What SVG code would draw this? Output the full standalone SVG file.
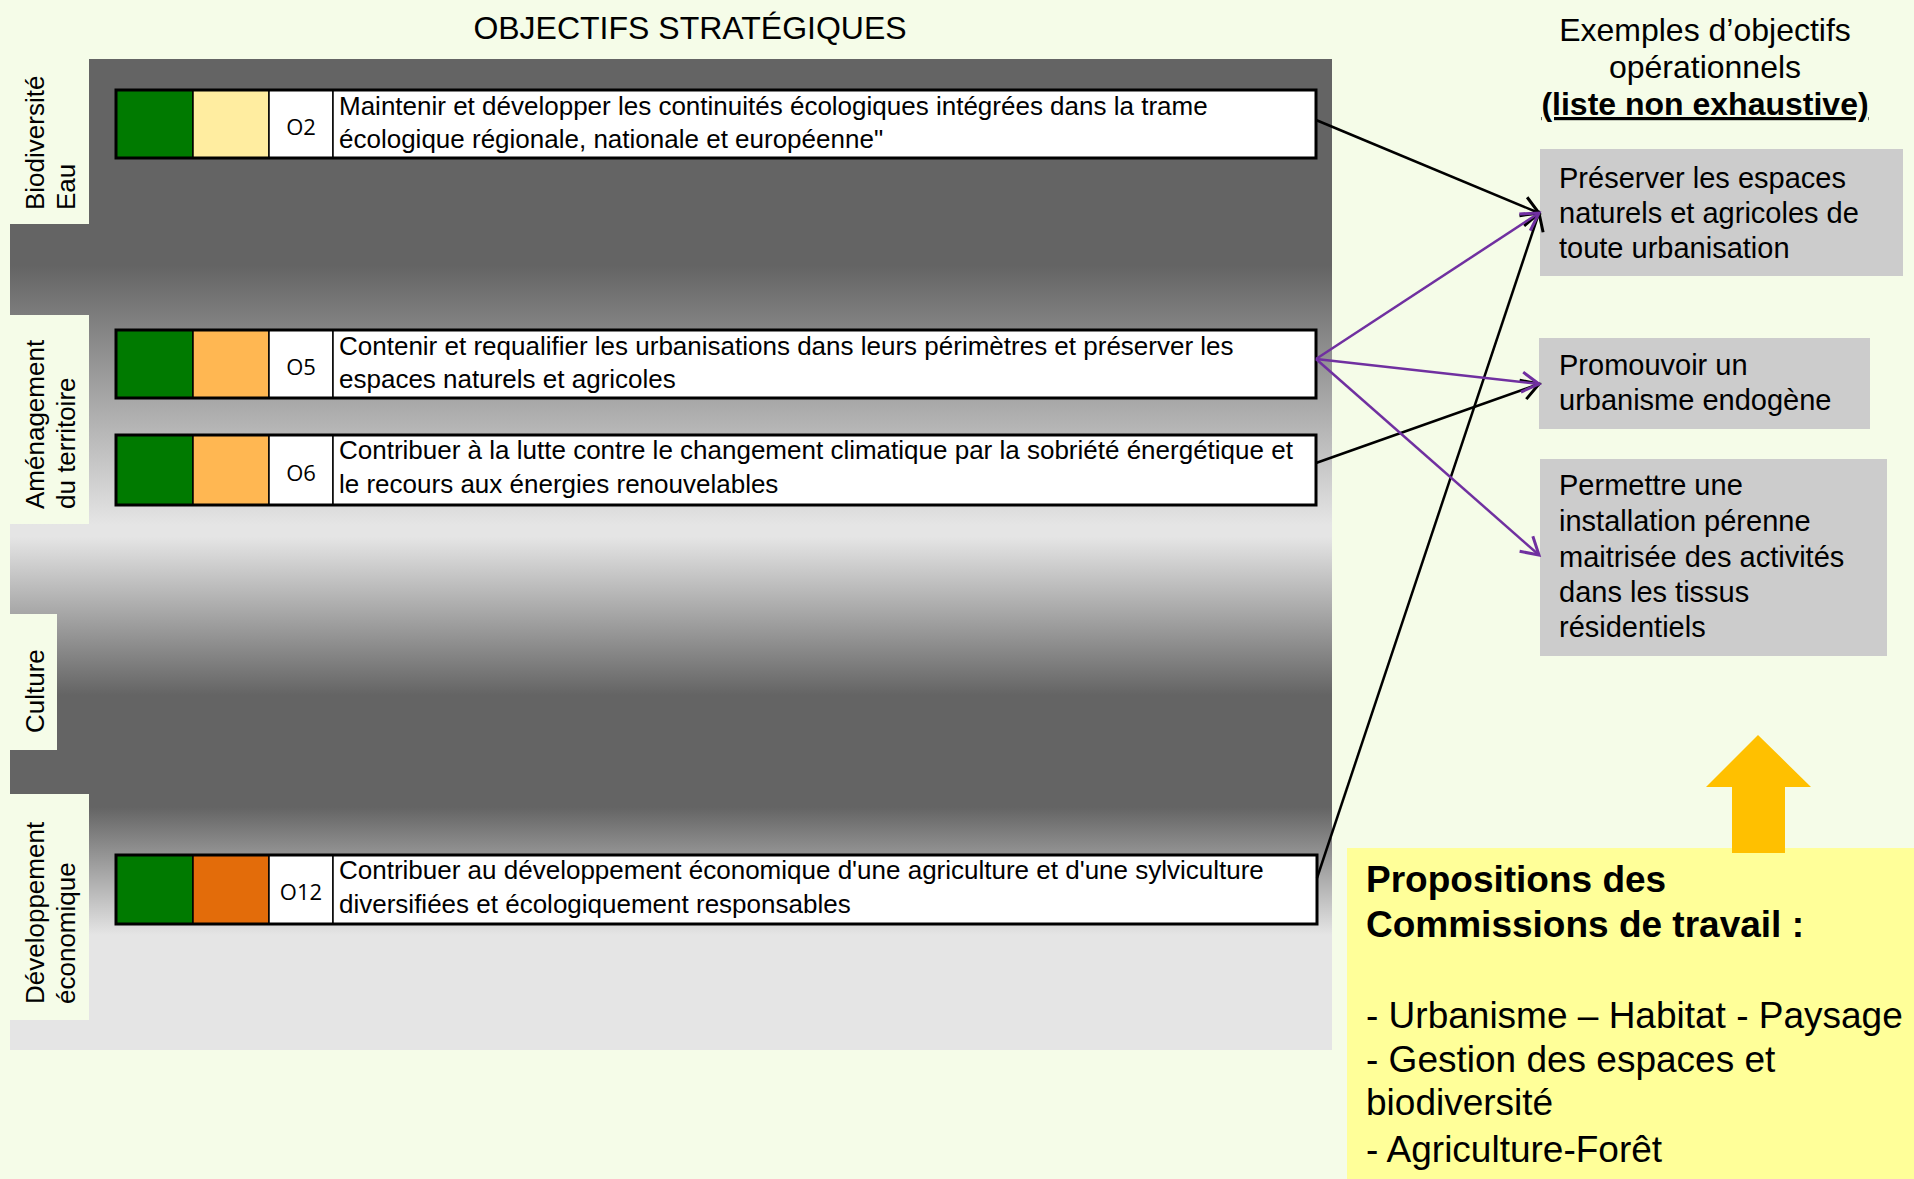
<svg xmlns="http://www.w3.org/2000/svg" width="1914" height="1179" viewBox="0 0 1914 1179">
<defs>
<linearGradient id="panel" gradientUnits="userSpaceOnUse" x1="0" y1="59" x2="0" y2="1050">
<stop offset="0" stop-color="#646464"/>
<stop offset="0.208" stop-color="#646464"/>
<stop offset="0.470" stop-color="#e5e5e5"/>
<stop offset="0.482" stop-color="#e5e5e5"/>
<stop offset="0.642" stop-color="#646464"/>
<stop offset="0.755" stop-color="#646464"/>
<stop offset="0.884" stop-color="#e5e5e5"/>
<stop offset="1" stop-color="#e5e5e5"/>
</linearGradient>
<marker id="ahBlack" markerUnits="userSpaceOnUse" markerWidth="30" markerHeight="30" refX="0" refY="0" orient="auto" overflow="visible">
<path d="M-17,-10 L0,0 L-17,10" fill="none" stroke="#000" stroke-width="3"/>
</marker>
<marker id="ahPurple" markerUnits="userSpaceOnUse" markerWidth="30" markerHeight="30" refX="0" refY="0" orient="auto" overflow="visible">
<path d="M-17,-10 L0,0 L-17,10" fill="none" stroke="#7030a0" stroke-width="3"/>
</marker>
<style>
.sans{font-family:"Liberation Sans",Arial,sans-serif;fill:#000}
.tab{fill:#f5fce8}
.lbl{font-family:"Liberation Sans",Arial,sans-serif;font-size:26px;fill:#000}
.rowt{font-family:"Liberation Sans",Arial,sans-serif;font-size:26px;fill:#000}
.code{font-family:"Open Sans","Noto Sans",sans-serif;font-size:22px;fill:#000;text-anchor:middle}
.cell{stroke:#000;stroke-width:1.5}
.frame{fill:none;stroke:#000;stroke-width:3}
.box{fill:#cccccc}
.boxt{font-family:"Liberation Sans",Arial,sans-serif;font-size:29px;fill:#000}
.yel{font-family:"Liberation Sans",Arial,sans-serif;font-size:37px;fill:#000}
.cb{fill:none;stroke:#000;stroke-width:2.5}
.cp{fill:none;stroke:#7030a0;stroke-width:2.5}
</style>
</defs>
<rect x="0" y="0" width="1914" height="1179" fill="#f5fce8"/>

<text class="sans" x="690" y="39" font-size="32" text-anchor="middle">OBJECTIFS STRATÉGIQUES</text>

<rect id="panel-bg" x="10" y="59" width="1322" height="991" fill="url(#panel)"/>

<g id="tab-biodiversite">
<rect class="tab" x="10" y="59" width="79" height="165"/>
<text class="lbl" transform="translate(44,210) rotate(-90)">Biodiversité</text>
<text class="lbl" transform="translate(75,210) rotate(-90)">Eau</text>
</g>
<g id="tab-amenagement">
<rect class="tab" x="10" y="315" width="79" height="209"/>
<text class="lbl" transform="translate(44,509) rotate(-90)">Aménagement</text>
<text class="lbl" transform="translate(75,509) rotate(-90)">du territoire</text>
</g>
<g id="tab-culture">
<rect class="tab" x="10" y="614" width="47" height="136"/>
<text class="lbl" transform="translate(44,733) rotate(-90)">Culture</text>
</g>
<g id="tab-developpement">
<rect class="tab" x="10" y="794" width="79" height="226"/>
<text class="lbl" transform="translate(44,1004) rotate(-90)">Développement</text>
<text class="lbl" transform="translate(75,1004) rotate(-90)">économique</text>
</g>

<g id="row-o2">
<rect class="cell" x="116" y="90" width="77" height="68" fill="#007a00"/>
<rect class="cell" x="193" y="90" width="76" height="68" fill="#ffeda0"/>
<rect class="cell" x="269" y="90" width="64" height="68" fill="#fff"/>
<rect class="cell" x="333" y="90" width="983" height="68" fill="#fff"/>
<rect class="frame" x="116" y="90" width="1200" height="68"/>
<text class="code" x="301" y="135">O2</text>
<text class="rowt" x="339" y="115">Maintenir et développer les continuités écologiques intégrées dans la trame</text>
<text class="rowt" x="339" y="148">écologique régionale, nationale et européenne"</text>
</g>

<g id="row-o5">
<rect class="cell" x="116" y="330" width="77" height="68" fill="#007a00"/>
<rect class="cell" x="193" y="330" width="76" height="68" fill="#ffb752"/>
<rect class="cell" x="269" y="330" width="64" height="68" fill="#fff"/>
<rect class="cell" x="333" y="330" width="983" height="68" fill="#fff"/>
<rect class="frame" x="116" y="330" width="1200" height="68"/>
<text class="code" x="301" y="375">O5</text>
<text class="rowt" x="339" y="355">Contenir et requalifier les urbanisations dans leurs périmètres et préserver les</text>
<text class="rowt" x="339" y="388">espaces naturels et agricoles</text>
</g>

<g id="row-o6">
<rect class="cell" x="116" y="435" width="77" height="70" fill="#007a00"/>
<rect class="cell" x="193" y="435" width="76" height="70" fill="#ffb752"/>
<rect class="cell" x="269" y="435" width="64" height="70" fill="#fff"/>
<rect class="cell" x="333" y="435" width="983" height="70" fill="#fff"/>
<rect class="frame" x="116" y="435" width="1200" height="70"/>
<text class="code" x="301" y="481">O6</text>
<text class="rowt" x="339" y="459">Contribuer à la lutte contre le changement climatique par la sobriété énergétique et</text>
<text class="rowt" x="339" y="493">le recours aux énergies renouvelables</text>
</g>

<g id="row-o12">
<rect class="cell" x="116" y="855" width="77" height="69" fill="#007a00"/>
<rect class="cell" x="193" y="855" width="76" height="69" fill="#e36c0a"/>
<rect class="cell" x="269" y="855" width="64" height="69" fill="#fff"/>
<rect class="cell" x="333" y="855" width="984" height="69" fill="#fff"/>
<rect class="frame" x="116" y="855" width="1201" height="69"/>
<text class="code" x="301" y="900">O12</text>
<text class="rowt" x="339" y="879">Contribuer au développement économique d'une agriculture et d'une sylviculture</text>
<text class="rowt" x="339" y="913">diversifiées et écologiquement responsables</text>
</g>

<g id="header-right">
<text class="sans" x="1705" y="41" font-size="32" text-anchor="middle">Exemples d’objectifs</text>
<text class="sans" x="1705" y="78" font-size="32" text-anchor="middle">opérationnels</text>
<text class="sans" x="1705" y="115" font-size="32" font-weight="bold" text-anchor="middle" text-decoration="underline">(liste non exhaustive)</text>
</g>

<g id="op-preserver">
<rect class="box" x="1540" y="149" width="363" height="127"/>
<text class="boxt" x="1559" y="188">Préserver les espaces</text>
<text class="boxt" x="1559" y="223">naturels et agricoles de</text>
<text class="boxt" x="1559" y="258">toute urbanisation</text>
</g>
<g id="op-promouvoir">
<rect class="box" x="1539" y="338" width="331" height="91"/>
<text class="boxt" x="1559" y="375">Promouvoir un</text>
<text class="boxt" x="1559" y="410">urbanisme endogène</text>
</g>
<g id="op-permettre">
<rect class="box" x="1540" y="459" width="347" height="197"/>
<text class="boxt" x="1559" y="495">Permettre une</text>
<text class="boxt" x="1559" y="531">installation pérenne</text>
<text class="boxt" x="1559" y="567">maitrisée des activités</text>
<text class="boxt" x="1559" y="602">dans les tissus</text>
<text class="boxt" x="1559" y="637">résidentiels</text>
</g>

<g id="propositions">
<rect x="1347" y="848" width="567" height="331" fill="#ffff99"/>
<text class="yel" x="1366" y="892" font-weight="bold">Propositions des</text>
<text class="yel" x="1366" y="937" font-weight="bold">Commissions de travail :</text>
<text class="yel" x="1366" y="1028">- Urbanisme – Habitat - Paysage</text>
<text class="yel" x="1366" y="1072">- Gestion des espaces et</text>
<text class="yel" x="1366" y="1115">biodiversité</text>
<text class="yel" x="1366" y="1162">- Agriculture-Forêt</text>
</g>

<g id="up-arrow">
<polygon points="1758,735 1811,787 1785,787 1785,853 1732,853 1732,787 1706,787" fill="#ffc000"/>
</g>

<g id="connectors">
<line class="cb" x1="1316" y1="120" x2="1539" y2="213" marker-end="url(#ahBlack)"/>
<line class="cb" x1="1317" y1="878" x2="1539" y2="213" marker-end="url(#ahBlack)"/>
<line class="cb" x1="1316" y1="463" x2="1539" y2="384" marker-end="url(#ahBlack)"/>
<line class="cp" x1="1316" y1="359" x2="1539" y2="213" marker-end="url(#ahPurple)"/>
<line class="cp" x1="1316" y1="359" x2="1539" y2="384" marker-end="url(#ahPurple)"/>
<line class="cp" x1="1316" y1="359" x2="1539" y2="555" marker-end="url(#ahPurple)"/>
</g>
</svg>
